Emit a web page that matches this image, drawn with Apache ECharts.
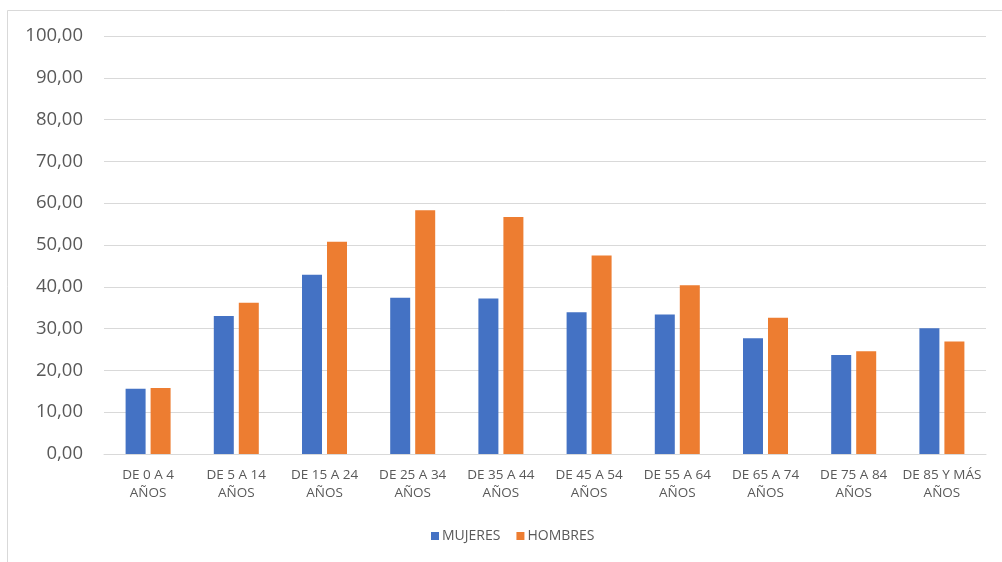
<!DOCTYPE html>
<html>
<head>
<meta charset="utf-8">
<script src="https://cdn.jsdelivr.net/npm/echarts@6/dist/echarts.min.js"></script>
<style>
  html, body { margin: 0; padding: 0; background: #ffffff; }
  #chart { width: 1002px; height: 562px; }
</style>
</head>
<body>
<div id="chart"></div>
<script>
// Age groups on the category axis
const categories = [
  'DE 0 A 4\nAÑOS', 'DE 5 A 14\nAÑOS', 'DE 15 A 24\nAÑOS', 'DE 25 A 34\nAÑOS',
  'DE 35 A 44\nAÑOS', 'DE 45 A 54\nAÑOS', 'DE 55 A 64\nAÑOS', 'DE 65 A 74\nAÑOS',
  'DE 75 A 84\nAÑOS', 'DE 85 Y MÁS\nAÑOS'
];

// Values per age group
const mujeres = [15.6, 33.0, 42.9, 37.4, 37.2, 33.9, 33.4, 27.7, 23.7, 30.1];
const hombres = [15.8, 36.2, 50.8, 58.3, 56.7, 47.5, 40.4, 32.6, 24.6, 26.9];

// Value axis range
const yMin = 0;
const yMax = 100;
const yStep = 10;

const textColor = '#595959';
const fontFamily = '"Open Sans", "Liberation Sans", sans-serif';

const chart = echarts.init(document.getElementById('chart'), null, { renderer: 'canvas' });

chart.setOption({
  animation: false,
  backgroundColor: '#ffffff',
  textStyle: { fontFamily: fontFamily, color: textColor },
  graphic: [{
    type: 'rect',
    shape: { x: 7.5, y: 10.5, width: 1100, height: 700 },
    style: { fill: 'none', stroke: '#d9d9d9', lineWidth: 1 },
    silent: true,
    z: -10
  }],
  grid: { left: 104, right: 16, top: 36, bottom: 108, containLabel: false },
  legend: {
    bottom: 14,
    left: 426,
    itemWidth: 8,
    itemHeight: 8,
    itemGap: 16,
    icon: 'rect',
    textStyle: { color: textColor, fontSize: 14, fontFamily: fontFamily, padding: [0, 0, 0, -2] },
    data: ['MUJERES', 'HOMBRES']
  },
  xAxis: {
    type: 'category',
    data: categories,
    axisLine: { show: true, lineStyle: { color: '#d9d9d9', width: 1 } },
    axisTick: { show: false },
    axisLabel: {
      color: textColor,
      fontSize: 13.5,
      fontFamily: fontFamily,
      lineHeight: 18,
      margin: 12,
      interval: 0
    }
  },
  yAxis: {
    type: 'value',
    min: yMin,
    max: yMax,
    interval: yStep,
    axisLine: { show: false },
    axisTick: { show: false },
    splitLine: { lineStyle: { color: '#d9d9d9', width: 1 } },
    axisLabel: {
      color: textColor,
      fontSize: 18.5,
      fontFamily: fontFamily,
      margin: 21,
      formatter: v => v.toFixed(2).replace('.', ',')
    }
  },
  series: [
    {
      name: 'MUJERES',
      type: 'bar',
      data: mujeres,
      barWidth: 20,
      barGap: '25%',
      itemStyle: { color: '#4472c4' }
    },
    {
      name: 'HOMBRES',
      type: 'bar',
      data: hombres,
      barWidth: 20,
      barGap: '25%',
      itemStyle: { color: '#ed7d31' }
    }
  ]
});
</script>
</body>
</html>
